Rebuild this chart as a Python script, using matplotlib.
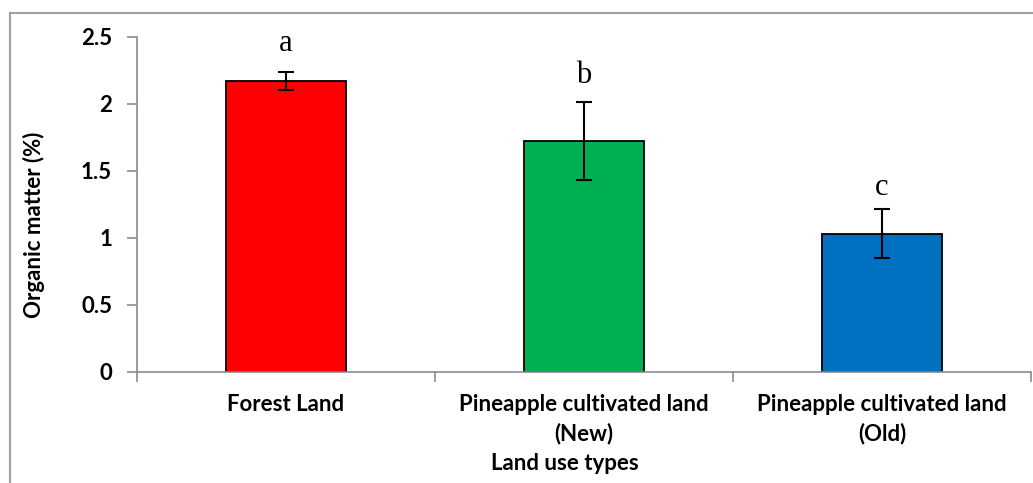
import matplotlib
matplotlib.use("Agg")
import matplotlib.pyplot as plt
from matplotlib.patches import Rectangle

# organic matter by land use type (mean and error)
categories = ["Forest Land", "Pineapple cultivated land\n(New)", "Pineapple cultivated land\n(Old)"]
organic_matter = [2.17, 1.72, 1.03]
errors = [0.07, 0.29, 0.18]
letters = ["a", "b", "c"]
letter_y = [2.39, 2.155, 1.315]
bar_colors = ["#FF0000", "#00B050", "#0070C0"]
yticks = [0, 0.5, 1, 1.5, 2, 2.5]
ytick_labels = ["0", "0.5", "1", "1.5", "2", "2.5"]

W, H = 1033, 483
fig = plt.figure(figsize=(W / 100, H / 100), dpi=100)
ax = fig.add_axes([137 / W, 1 - 371.5 / H, (1031 - 137) / W, (371.5 - 36.7) / H])

font = "Lato"
fs = 16
axis_grey = "#8C8C8C"

x = range(len(categories))
ax.bar(x, organic_matter, width=0.4, color=bar_colors, edgecolor="black", linewidth=1.3, zorder=2)
ax.errorbar(x, organic_matter, yerr=errors, fmt="none", ecolor="black",
            elinewidth=1.5, capsize=6, capthick=1.5, zorder=3)

for xi, lab, ly in zip(x, letters, letter_y):
    ax.text(xi, ly, lab, ha="center", va="baseline", fontsize=22,
            family="Liberation Serif")

ax.set_xlim(-0.5, len(categories) - 0.5)
ax.set_ylim(0, 2.5)
ax.set_yticks(yticks)
ax.set_yticklabels(ytick_labels, fontsize=fs, fontweight="bold", family=font)
ax.set_xticks(list(x))
ax.set_xticklabels(categories, fontsize=fs, fontweight="bold", family=font, linespacing=1.45)
ax.tick_params(axis="x", length=0, pad=16)
ax.set_xticks([-0.5, 0.5, 1.5, 2.5], minor=True)
ax.tick_params(axis="x", which="minor", length=7, color=axis_grey, width=1.2)
ax.tick_params(axis="y", length=7, color=axis_grey, width=1.2, pad=11)

for side in ["top", "right"]:
    ax.spines[side].set_visible(False)
for side in ["left", "bottom"]:
    ax.spines[side].set_color(axis_grey)
    ax.spines[side].set_linewidth(1.2)

fig.text(34 / W, 1 - 225 / H, "Organic matter (%)", rotation=90, ha="center", va="center",
         fontsize=fs, fontweight="bold", family=font)
fig.text(565 / W, 1 - 464 / H, "Land use types", ha="center", va="center",
         fontsize=fs, fontweight="bold", family=font)

# chart frame
fig.patches.append(Rectangle((9.5 / W, -0.1), 1.2, 1 - 12.7 / H + 0.1, transform=fig.transFigure,
                             fill=False, edgecolor="#A0A0A0", linewidth=1.5, clip_on=False))

fig.savefig("out.png", dpi=100)
